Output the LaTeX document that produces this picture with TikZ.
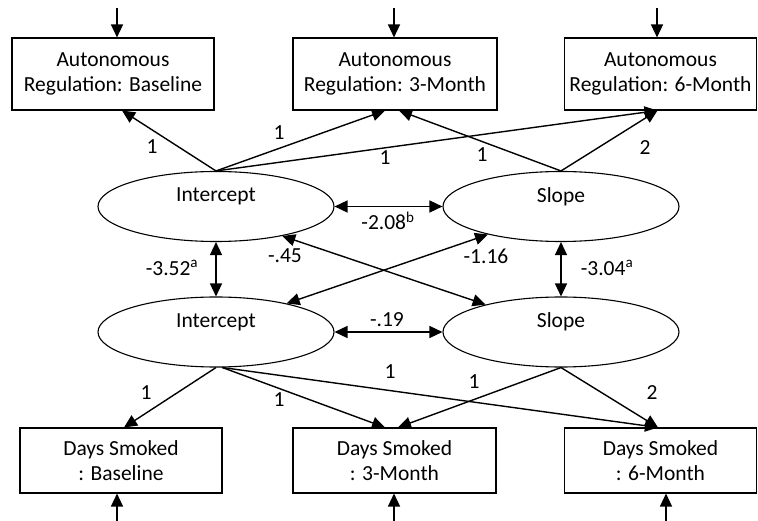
\documentclass[tikz,border=0pt]{standalone}
\usepackage{fontspec}
\setmainfont{Carlito}
\usetikzlibrary{shapes.geometric,arrows.meta,calc}
\begin{document}
\begin{tikzpicture}[x=1pt,y=-1pt,
  every node/.style={font=\fontsize{21.5}{25.5}\selectfont},
  obs/.style={draw, line width=1.1pt, rectangle, inner sep=0pt, align=center},
  lat/.style={draw, line width=1.1pt, ellipse, minimum width=236pt, minimum height=70pt, inner sep=0pt},
  arr/.style={line width=1.4pt, -{Triangle[length=13pt,width=12pt]}},
  darr/.style={line width=1.4pt, {Triangle[length=13pt,width=12pt]}-{Triangle[length=13pt,width=12pt]}},
  lab/.style={inner sep=0pt}
]
\useasboundingbox (0,0) rectangle (758,521);

% observed: autonomous regulation
\node[obs, minimum width=202pt, minimum height=72pt] (a1) at (113,74) {Autonomous\\Regulation: Baseline};
\node[obs, minimum width=204pt, minimum height=72pt] (a2) at (395,74) {Autonomous\\Regulation: 3-Month};
\node[obs, minimum width=192pt, minimum height=72pt] (a3) at (660.5,74) {Autonomous\\Regulation: 6-Month};

% latent factors
\node[lat, label={[lab,yshift=10pt]center:Intercept}] (ti) at (216,206.5) {};
\node[lat, label={[lab,yshift=10pt]center:Slope}] (ts) at (561,206.5) {};
\node[lat, label={[lab,yshift=10pt]center:Intercept}] (bi) at (216,332) {};
\node[lat, label={[lab,yshift=10pt]center:Slope}] (bs) at (561,332) {};

% observed: days smoked
\node[obs, minimum width=202pt, minimum height=65pt] (d1) at (121,460.5) {Days Smoked\\: Baseline};
\node[obs, minimum width=203pt, minimum height=65pt] (d2) at (394.5,460.5) {Days Smoked\\: 3-Month};
\node[obs, minimum width=192pt, minimum height=65pt] (d3) at (660.5,460.5) {Days Smoked\\: 6-Month};

% residual inputs
\coordinate (ta1) at (117,8);
\coordinate (ta2) at (394,8);
\coordinate (ta3) at (657,8);
\draw[arr] (ta1) -- (ta1 |- a1.north);
\draw[arr] (ta2) -- (ta2 |- a2.north);
\draw[arr] (ta3) -- (ta3 |- a3.north);
\coordinate (ba1) at (117,521);
\coordinate (ba2) at (394,521);
\coordinate (ba3) at (666,521);
\draw[arr] (ba1) -- (ba1 |- d1.south);
\draw[arr] (ba2) -- (ba2 |- d2.south);
\draw[arr] (ba3) -- (ba3 |- d3.south);

% top loadings
\draw[arr] (ti.north) -- ($(a1.south)+(9,0)$);
\draw[arr] (ti.north) -- ($(a2.south)+(-10,0)$);
\draw[arr] (ti.north) -- ($(a3.south)+(-3,0)$);
\draw[arr] (ts.north) -- ($(a2.south)+(4,0)$);
\draw[arr] (ts.north) -- ($(a3.south)+(-3,0)$);
\node[lab] (l1) at (152,147) {1};
\node[lab] (l2) at (279,133) {1};
\node[lab] (l3) at (385,158) {1};
\node[lab] (l4) at (482,155) {1};
\node[lab] (l5) at (645,148) {2};

% covariances
\draw[darr] (ti.east) -- (ts.west);
\draw[darr] (bi.east) -- (bs.west);
\draw[darr] (ti.south) -- (bi.north);
\draw[darr] (ts.south) -- (bs.north);
\draw[darr] (ts.201) -- (bi.22);
\draw[darr] (ti.336) -- (bs.160);
\node[lab] (c1) at (388,221) {-2.08\textsuperscript{b}};
\node[lab] (c2) at (172,268) {-3.52\textsuperscript{a}};
\node[lab] (c3) at (607,268) {-3.04\textsuperscript{a}};
\node[lab] (c4) at (285,256) {-.45};
\node[lab] (c5) at (486,256) {-1.16};
\node[lab] (c6) at (387,320) {-.19};

% bottom loadings
\draw[arr] (bi.south) -- ($(d1.north)+(3,0)$);
\draw[arr] (bi.-80) -- ($(d2.north)+(-9.5,0)$);
\draw[arr] (bi.-80) -- ($(d3.north)+(-2.5,0)$);
\draw[arr] (bs.south) -- ($(d2.north)+(3.5,0)$);
\draw[arr] (bs.south) -- ($(d3.north)+(-2.5,0)$);
\node[lab] (m1) at (146,393) {1};
\node[lab] (m2) at (279,400) {1};
\node[lab] (m3) at (390,372) {1};
\node[lab] (m4) at (474,382) {1};
\node[lab] (m5) at (652,393) {2};
\end{tikzpicture}
\end{document}
